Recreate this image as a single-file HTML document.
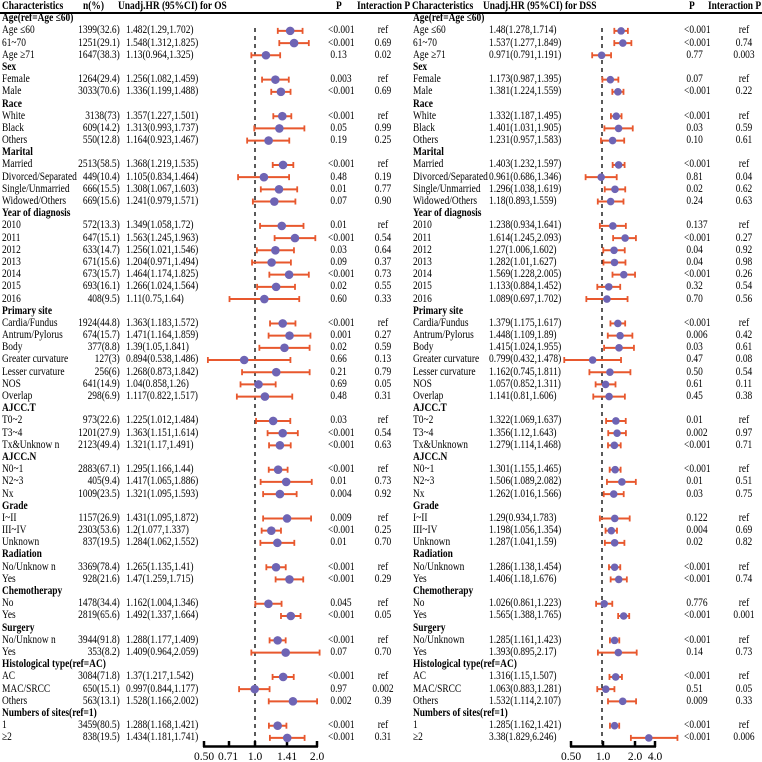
<!DOCTYPE html>
<html><head><meta charset="utf-8"><style>
html,body{margin:0;padding:0;background:#fff;}
#w{position:relative;width:762px;height:762px;overflow:hidden;font-family:"Liberation Serif",serif;font-size:11.5px;color:#000;}
.c{position:absolute;top:12.19px;white-space:pre;line-height:12.19px;}
.l{transform:scaleX(0.82);transform-origin:0 0;}
.r{text-align:right;transform:scaleX(0.82);transform-origin:100% 0;}
.m{text-align:center;width:60px;transform:scaleX(0.82);transform-origin:50% 0;}
.h{position:absolute;top:0;line-height:12.19px;font-weight:bold;white-space:pre;transform:scaleX(0.82);transform-origin:0 0;}
svg{position:absolute;left:0;top:0;}
</style></head><body><div id="w">
<div class="h" style="left:2px">Characteristics</div>
<div class="h" style="left:83px">n(%)</div>
<div class="h" style="left:118px">Unadj.HR (95%CI) for OS</div>
<div class="h" style="left:336px">P</div>
<div class="h" style="left:357px">Interaction P</div>
<div class="h" style="left:412px">Characteristics</div>
<div class="h" style="left:483px">Unadj.HR (95%CI) for DSS</div>
<div class="h" style="left:689px">P</div>
<div class="h" style="left:708px">Interaction P</div>

<div class="c l" style="left:2px"><b>Age(ref=Age ≤60)</b>
Age ≤60
61~70
Age ≥71
<b>Sex</b>
Female
Male
<b>Race</b>
White
Black
Others
<b>Marital</b>
Married
Divorced/Separated
Single/Unmarried
Widowed/Others
<b>Year of diagnosis</b>
2010
2011
2012
2013
2014
2015
2016
<b>Primary site</b>
Cardia/Fundus
Antrum/Pylorus
Body
Greater curvature
Lesser curvature
NOS
Overlap
<b>AJCC.T</b>
T0~2
T3~4
Tx&amp;Unknow n
<b>AJCC.N</b>
N0~1
N2~3
Nx
<b>Grade</b>
I~II
III~IV
Unknown
<b>Radiation</b>
No/Unknow n
Yes
<b>Chemotherapy</b>
No
Yes
<b>Surgery</b>
No/Unknow n
Yes
<b>Histological type(ref=AC)</b>
AC
MAC/SRCC
Others
<b>Numbers of sites(ref=1)</b>
1
≥2</div>

<div class="c r" style="right:642px"> 
1399(32.6)
1251(29.1)
1647(38.3)
 
1264(29.4)
3033(70.6)
 
3138(73)
609(14.2)
550(12.8)
 
2513(58.5)
449(10.4)
666(15.5)
669(15.6)
 
572(13.3)
647(15.1)
633(14.7)
671(15.6)
673(15.7)
693(16.1)
408(9.5)
 
1924(44.8)
674(15.7)
377(8.8)
127(3)
256(6)
641(14.9)
298(6.9)
 
973(22.6)
1201(27.9)
2123(49.4)
 
2883(67.1)
405(9.4)
1009(23.5)
 
1157(26.9)
2303(53.6)
837(19.5)
 
3369(78.4)
928(21.6)
 
1478(34.4)
2819(65.6)
 
3944(91.8)
353(8.2)
 
3084(71.8)
650(15.1)
563(13.1)
 
3459(80.5)
838(19.5)</div>

<div class="c l" style="left:126px"> 
1.482(1.29,1.702)
1.548(1.312,1.825)
1.13(0.964,1.325)
 
1.256(1.082,1.459)
1.336(1.199,1.488)
 
1.357(1.227,1.501)
1.313(0.993,1.737)
1.164(0.923,1.467)
 
1.368(1.219,1.535)
1.105(0.834,1.464)
1.308(1.067,1.603)
1.241(0.979,1.571)
 
1.349(1.058,1.72)
1.563(1.245,1.963)
1.256(1.021,1.546)
1.204(0.971,1.494)
1.464(1.174,1.825)
1.266(1.024,1.564)
1.11(0.75,1.64)
 
1.363(1.183,1.572)
1.471(1.164,1.859)
1.39(1.05,1.841)
0.894(0.538,1.486)
1.268(0.873,1.842)
1.04(0.858,1.26)
1.117(0.822,1.517)
 
1.225(1.012,1.484)
1.363(1.151,1.614)
1.321(1.17,1.491)
 
1.295(1.166,1.44)
1.417(1.065,1.886)
1.321(1.095,1.593)
 
1.431(1.095,1.872)
1.2(1.077,1.337)
1.284(1.062,1.552)
 
1.265(1.135,1.41)
1.47(1.259,1.715)
 
1.162(1.004,1.346)
1.492(1.337,1.664)
 
1.288(1.177,1.409)
1.409(0.964,2.059)
 
1.37(1.217,1.542)
0.997(0.844,1.177)
1.528(1.166,2.002)
 
1.288(1.168,1.421)
1.434(1.181,1.741)</div>

<div class="c l" style="left:328px"> 
&lt;0.001
&lt;0.001
 0.13
 
 0.003
&lt;0.001
 
&lt;0.001
 0.05
 0.19
 
&lt;0.001
 0.48
 0.01
 0.07
 
 0.01
&lt;0.001
 0.03
 0.09
&lt;0.001
 0.02
 0.60
 
&lt;0.001
 0.001
 0.02
 0.66
 0.21
 0.69
 0.48
 
 0.03
&lt;0.001
&lt;0.001
 
&lt;0.001
 0.01
 0.004
 
 0.009
&lt;0.001
 0.01
 
&lt;0.001
&lt;0.001
 
 0.045
&lt;0.001
 
&lt;0.001
 0.07
 
&lt;0.001
 0.97
 0.002
 
&lt;0.001
&lt;0.001</div>

<div class="c m" style="left:353px"> 
ref
0.69
0.02
 
ref
0.69
 
ref
0.99
0.25
 
ref
0.19
0.77
0.90
 
ref
0.54
0.64
0.37
0.73
0.55
0.33
 
ref
0.27
0.59
0.13
0.79
0.05
0.31
 
ref
0.54
0.63
 
ref
0.73
0.92
 
ref
0.25
0.70
 
ref
0.29
 
ref
0.05
 
ref
0.70
 
ref
0.002
0.39
 
ref
0.31</div>

<div class="c l" style="left:413px"><b>Age(ref=Age ≤60)</b>
Age ≤60
61~70
Age ≥71
<b>Sex</b>
Female
Male
<b>Race</b>
White
Black
Others
<b>Marital</b>
Married
Divorced/Separated
Single/Unmarried
Widowed/Others
<b>Year of diagnosis</b>
2010
2011
2012
2013
2014
2015
2016
<b>Primary site</b>
Cardia/Fundus
Antrum/Pylorus
Body
Greater curvature
Lesser curvature
NOS
Overlap
<b>AJCC.T</b>
T0~2
T3~4
Tx&amp;Unknown
<b>AJCC.N</b>
N0~1
N2~3
Nx
<b>Grade</b>
I~II
III~IV
Unknown
<b>Radiation</b>
No/Unknown
Yes
<b>Chemotherapy</b>
No
Yes
<b>Surgery</b>
No/Unknown
Yes
<b>Histological type(ref=AC)</b>
AC
MAC/SRCC
Others
<b>Numbers of sites(ref=1)</b>
1
≥2</div>

<div class="c l" style="left:489px"> 
1.48(1.278,1.714)
1.537(1.277,1.849)
0.971(0.791,1.191)
 
1.173(0.987,1.395)
1.381(1.224,1.559)
 
1.332(1.187,1.495)
1.401(1.031,1.905)
1.231(0.957,1.583)
 
1.403(1.232,1.597)
0.961(0.686,1.346)
1.296(1.038,1.619)
1.18(0.893,1.559)
 
1.238(0.934,1.641)
1.614(1.245,2.093)
1.27(1.006,1.602)
1.282(1.01,1.627)
1.569(1.228,2.005)
1.133(0.884,1.452)
1.089(0.697,1.702)
 
1.379(1.175,1.617)
1.448(1.109,1.89)
1.415(1.024,1.955)
0.799(0.432,1.478)
1.162(0.745,1.811)
1.057(0.852,1.311)
1.141(0.81,1.606)
 
1.322(1.069,1.637)
1.356(1.12,1.643)
1.279(1.114,1.468)
 
1.301(1.155,1.465)
1.506(1.089,2.082)
1.262(1.016,1.566)
 
1.29(0.934,1.783)
1.198(1.056,1.354)
1.287(1.041,1.59)
 
1.286(1.138,1.454)
1.406(1.18,1.676)
 
1.026(0.861,1.223)
1.565(1.388,1.765)
 
1.285(1.161,1.423)
1.393(0.895,2.17)
 
1.316(1.15,1.507)
1.063(0.883,1.281)
1.532(1.114,2.107)
 
1.285(1.162,1.421)
3.38(1.829,6.246)</div>

<div class="c l" style="left:684px"> 
&lt;0.001
&lt;0.001
 0.77
 
 0.07
&lt;0.001
 
&lt;0.001
 0.03
 0.10
 
&lt;0.001
 0.81
 0.02
 0.24
 
 0.137
&lt;0.001
 0.04
 0.04
&lt;0.001
 0.32
 0.70
 
&lt;0.001
 0.006
 0.03
 0.47
 0.50
 0.61
 0.45
 
 0.01
 0.002
&lt;0.001
 
&lt;0.001
 0.01
 0.03
 
 0.122
 0.004
 0.02
 
&lt;0.001
&lt;0.001
 
 0.776
&lt;0.001
 
&lt;0.001
 0.14
 
&lt;0.001
 0.51
 0.009
 
&lt;0.001
&lt;0.001</div>

<div class="c m" style="left:714px"> 
ref
0.74
0.003
 
ref
0.22
 
ref
0.59
0.61
 
ref
0.04
0.62
0.63
 
ref
0.27
0.92
0.98
0.26
0.54
0.56
 
ref
0.42
0.61
0.08
0.54
0.11
0.38
 
ref
0.97
0.71
 
ref
0.51
0.75
 
ref
0.69
0.82
 
ref
0.74
 
ref
0.001
 
ref
0.73
 
ref
0.05
0.33
 
ref
0.006</div>

<svg id="g" width="762" height="762" xmlns="http://www.w3.org/2000/svg" font-family="Liberation Serif, serif" font-size="11.5">
<line x1="0" y1="13" x2="762" y2="13" stroke="#000" stroke-width="2"/>
<line x1="255" y1="28" x2="255" y2="746" stroke="#000" stroke-width="1.3" stroke-dasharray="4,4"/>
<line x1="602" y1="28" x2="602" y2="746" stroke="#000" stroke-width="1.3" stroke-dasharray="4,4"/>
<g stroke="#000" stroke-width="2.5">
<line x1="203" y1="746.5" x2="318" y2="746.5"/>
<line x1="204" y1="741" x2="204" y2="747"/><line x1="229" y1="741" x2="229" y2="747"/><line x1="255" y1="741" x2="255" y2="747"/><line x1="287" y1="741" x2="287" y2="747"/><line x1="317" y1="741" x2="317" y2="747"/>
<line x1="570" y1="746.5" x2="656" y2="746.5"/>
<line x1="571" y1="741" x2="571" y2="747"/><line x1="603" y1="741" x2="603" y2="747"/><line x1="635" y1="741" x2="635" y2="747"/><line x1="655" y1="741" x2="655" y2="747"/>
</g>
<g text-anchor="middle">
<text x="204" y="760">0.50</text><text x="228" y="760">0.71</text><text x="255" y="760">1.0</text><text x="287" y="760">1.41</text><text x="317" y="760">2.0</text>
<text x="571" y="760">0.50</text><text x="603" y="760">1.0</text><text x="635" y="760">2.0</text><text x="655" y="760">4.0</text>
</g>
</svg>
</div>
<script>
var rows=[2,3,4,6,7,9,10,11,13,14,15,16,18,19,20,21,22,23,24,26,27,28,29,30,31,32,34,35,36,38,39,40,42,43,44,46,47,49,50,52,53,55,56,57,59,60];
var L=[[1.482,1.29,1.702],[1.548,1.312,1.825],[1.13,.964,1.325],[1.256,1.082,1.459],[1.336,1.199,1.488],[1.357,1.227,1.501],[1.313,.993,1.737],[1.164,.923,1.467],[1.368,1.219,1.535],[1.105,.834,1.464],[1.308,1.067,1.603],[1.241,.979,1.571],[1.349,1.058,1.72],[1.563,1.245,1.963],[1.256,1.021,1.546],[1.204,.971,1.494],[1.464,1.174,1.825],[1.266,1.024,1.564],[1.11,.75,1.64],[1.363,1.183,1.572],[1.471,1.164,1.859],[1.39,1.05,1.841],[.894,.538,1.486],[1.268,.873,1.842],[1.04,.858,1.26],[1.117,.822,1.517],[1.225,1.012,1.484],[1.363,1.151,1.614],[1.321,1.17,1.491],[1.295,1.166,1.44],[1.417,1.065,1.886],[1.321,1.095,1.593],[1.431,1.095,1.872],[1.2,1.077,1.337],[1.284,1.062,1.552],[1.265,1.135,1.41],[1.47,1.259,1.715],[1.162,1.004,1.346],[1.492,1.337,1.664],[1.288,1.177,1.409],[1.409,.964,2.059],[1.37,1.217,1.542],[.997,.844,1.177],[1.528,1.166,2.002],[1.288,1.168,1.421],[1.434,1.181,1.741]];
var R=[[1.48,1.278,1.714],[1.537,1.277,1.849],[.971,.791,1.191],[1.173,.987,1.395],[1.381,1.224,1.559],[1.332,1.187,1.495],[1.401,1.031,1.905],[1.231,.957,1.583],[1.403,1.232,1.597],[.961,.686,1.346],[1.296,1.038,1.619],[1.18,.893,1.559],[1.238,.934,1.641],[1.614,1.245,2.093],[1.27,1.006,1.602],[1.282,1.01,1.627],[1.569,1.228,2.005],[1.133,.884,1.452],[1.089,.697,1.702],[1.379,1.175,1.617],[1.448,1.109,1.89],[1.415,1.024,1.955],[.799,.432,1.478],[1.162,.745,1.811],[1.057,.852,1.311],[1.141,.81,1.606],[1.322,1.069,1.637],[1.356,1.12,1.643],[1.279,1.114,1.468],[1.301,1.155,1.465],[1.506,1.089,2.082],[1.262,1.016,1.566],[1.29,.934,1.783],[1.198,1.056,1.354],[1.287,1.041,1.59],[1.286,1.138,1.454],[1.406,1.18,1.676],[1.026,.861,1.223],[1.565,1.388,1.765],[1.285,1.161,1.423],[1.393,.895,2.17],[1.316,1.15,1.507],[1.063,.883,1.281],[1.532,1.114,2.107],[1.285,1.162,1.421],[3.38,1.829,6.246]];
function fl(v){return v<1?255-(1-v)*102:255+Math.log2(v)*62;}
function fr(v){if(v<=2)return 603+Math.log2(v)*32;return 635+(v-2)*10;}
var s='';
function draw(d,f,r){for(var i=0;i<rows.length;i++){var y=6.5+12.19*rows[i],a=f(d[i][1]),b=f(d[i][2]),c=f(d[i][0]);
s+='<line x1="'+a+'" y1="'+y+'" x2="'+b+'" y2="'+y+'" stroke="#e8582e" stroke-width="2"/>';
s+='<line x1="'+a+'" y1="'+(y-3)+'" x2="'+a+'" y2="'+(y+3)+'" stroke="#e8582e" stroke-width="1.8"/>';
s+='<line x1="'+b+'" y1="'+(y-3)+'" x2="'+b+'" y2="'+(y+3)+'" stroke="#e8582e" stroke-width="1.8"/>';
s+='<circle cx="'+c+'" cy="'+y+'" r="'+r+'" fill="#6e64b4"/>';}}
draw(L,fl,4.3);draw(R,fr,3.8);
document.getElementById('g').insertAdjacentHTML('beforeend',s);
</script>
</body></html>
